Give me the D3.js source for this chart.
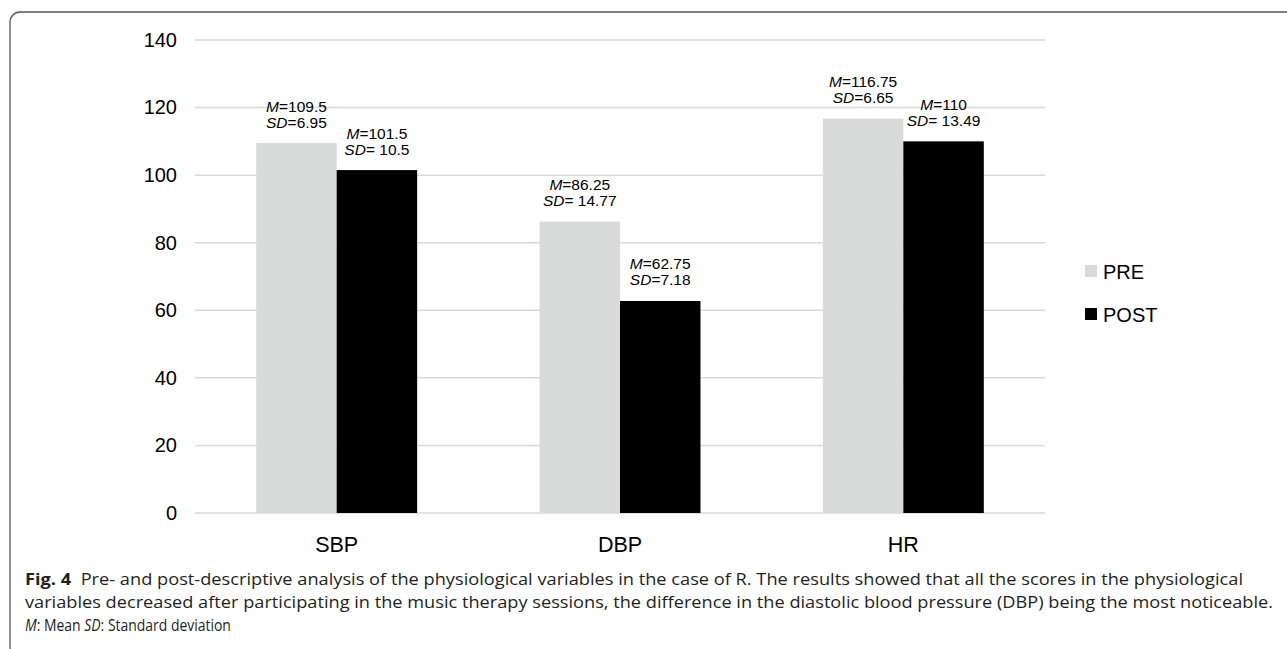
<!DOCTYPE html>
<html lang="en">
  <head>
    <meta charset="utf-8">
    <script src="https://d3js.org/d3.v7.min.js"></script>
    <style>
    body { margin: 0; background: #fff; }
    svg { display: block; }
    </style>
  </head>
  <body>
    <div id="place"></div>
    <script type="text/javascript">
    // data
    var categories = ["SBP", "DBP", "HR"];
    var groups = ["PRE", "POST"];
    var preValues = [109.5, 86.25, 116.75];
    var postValues = [101.5, 62.75, 110];
    var preSD = ["6.95", " 14.77", "6.65"];
    var postSD = [" 10.5", "7.18", " 13.49"];
    var yTicks = [0, 20, 40, 60, 80, 100, 120, 140];

    var colors = { PRE: "#d9dada", POST: "#000000" };

    var width = 1287, height = 649;
    var svg = d3.select("#place").append("svg")
      .attr("width", width)
      .attr("height", height);

    // frame round the figure
    svg.append("rect")
      .attr("x", 10).attr("y", 12)
      .attr("width", 1300).attr("height", 645)
      .attr("rx", 10).attr("ry", 10)
      .attr("fill", "none")
      .attr("stroke", "#555")
      .attr("stroke-width", 1.3);

    var plot = { left: 195, right: 1045, top: 40, bottom: 513 };

    var rows = categories.map(function(c, i) {
      return { cat: c, PRE: preValues[i], POST: postValues[i], preSD: preSD[i], postSD: postSD[i] };
    });

    var x0 = d3.scaleBand()
      .domain(categories)
      .range([plot.left, plot.right])
      .paddingInner(0.432)
      .paddingOuter(0.216);

    var x1 = d3.scaleBand()
      .domain(groups)
      .range([0, x0.bandwidth()])
      .padding(0);

    var y = d3.scaleLinear()
      .domain([0, 140])
      .range([plot.bottom, plot.top]);

    // gridlines
    svg.append("g")
      .selectAll("line")
      .data(yTicks)
      .enter().append("line")
      .attr("x1", plot.left).attr("x2", plot.right)
      .attr("y1", function(d) { return y(d); })
      .attr("y2", function(d) { return y(d); })
      .attr("stroke", "#d9d9d9")
      .attr("stroke-width", 1.5);

    // y axis labels
    var yAxis = svg.append("g")
      .attr("transform", "translate(" + plot.left + ",0)")
      .call(d3.axisLeft(y).tickValues(yTicks).tickSize(0).tickPadding(18));
    yAxis.select(".domain").remove();
    yAxis.selectAll("text")
      .style("font-family", "'Liberation Sans', Arial, sans-serif")
      .style("font-size", "20px")
      .attr("fill", "#000");

    // x axis labels
    var xAxis = svg.append("g")
      .attr("transform", "translate(0," + plot.bottom + ")")
      .call(d3.axisBottom(x0).tickSize(0).tickPadding(24));
    xAxis.select(".domain").remove();
    xAxis.selectAll("text")
      .style("font-family", "'Liberation Sans', Arial, sans-serif")
      .style("font-size", "21.5px")
      .attr("fill", "#000");

    // bars
    var cat = svg.append("g")
      .selectAll("g")
      .data(rows)
      .enter().append("g")
      .attr("transform", function(d) { return "translate(" + x0(d.cat) + ",0)"; });

    cat.selectAll("rect")
      .data(function(d) { return groups.map(function(g) { return { key: g, value: d[g] }; }); })
      .enter().append("rect")
      .attr("x", function(d) { return x1(d.key); })
      .attr("y", function(d) { return y(d.value); })
      .attr("width", x1.bandwidth())
      .attr("height", function(d) { return y(0) - y(d.value); })
      .attr("fill", function(d) { return colors[d.key]; });

    // M / SD labels above bars
    var labels = cat.selectAll("g.lab")
      .data(function(d) {
        return [
          { key: "PRE", value: d.PRE, sd: d.preSD },
          { key: "POST", value: d.POST, sd: d.postSD }
        ];
      })
      .enter().append("g")
      .attr("class", "lab")
      .style("font-family", "'Liberation Sans', Arial, sans-serif")
      .style("font-size", "15.5px")
      .attr("text-anchor", "middle")
      .attr("fill", "#000");

    var mLine = labels.append("text")
      .attr("x", function(d) { return x1(d.key) + x1.bandwidth() / 2; })
      .attr("y", function(d) { return y(d.value) - 31.5; });
    mLine.append("tspan").style("font-style", "italic").text("M");
    mLine.append("tspan").text(function(d) { return "=" + d.value; });

    var sdLine = labels.append("text")
      .attr("x", function(d) { return x1(d.key) + x1.bandwidth() / 2; })
      .attr("y", function(d) { return y(d.value) - 15.5; })
      .style("white-space", "pre");
    sdLine.append("tspan").style("font-style", "italic").text("SD");
    sdLine.append("tspan").text(function(d) { return "=" + d.sd; });

    // legend
    var legend = svg.append("g")
      .selectAll("g")
      .data(groups)
      .enter().append("g")
      .attr("transform", function(d, i) { return "translate(1085," + (265 + i * 43) + ")"; });
    legend.append("rect")
      .attr("width", 12).attr("height", 12)
      .attr("fill", function(d) { return colors[d]; });
    legend.append("text")
      .attr("x", 18).attr("y", 13.5)
      .style("font-family", "'Liberation Sans', Arial, sans-serif")
      .style("font-size", "20px")
      .attr("fill", "#000")
      .text(function(d) { return d; });

    // caption
    var cap = svg.append("g")
      .style("font-family", "'Open Sans', 'Noto Sans', sans-serif")
      .style("font-size", "15.5px")
      .attr("fill", "#231f20");

    var c1 = cap.append("text")
      .attr("x", 25).attr("y", 585)
      .attr("textLength", 1218)
      .attr("lengthAdjust", "spacingAndGlyphs")
      .style("white-space", "pre");
    c1.append("tspan").style("font-weight", "bold").text("Fig. 4");
    c1.append("tspan").text("  Pre- and post-descriptive analysis of the physiological variables in the case of R. The results showed that all the scores in the physiological");

    cap.append("text")
      .attr("x", 25).attr("y", 608)
      .attr("textLength", 1248)
      .attr("lengthAdjust", "spacingAndGlyphs")
      .text("variables decreased after participating in the music therapy sessions, the difference in the diastolic blood pressure (DBP) being the most noticeable.");

    var c3 = cap.append("text")
      .attr("transform", "translate(25,631) scale(0.9,1)")
      .style("white-space", "pre");
    c3.append("tspan").style("font-style", "italic").text("M");
    c3.append("tspan").text(": Mean ");
    c3.append("tspan").style("font-style", "italic").text("SD");
    c3.append("tspan").text(": Standard deviation");
    </script>
  </body>
</html>
